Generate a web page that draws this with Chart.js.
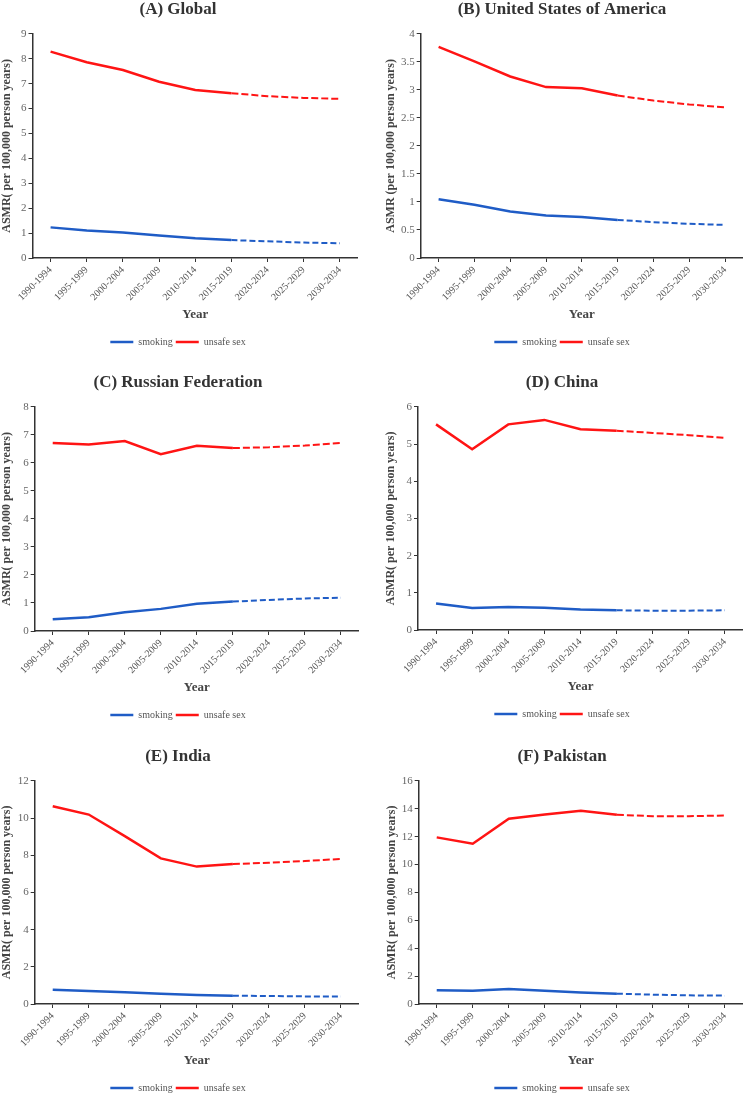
<!DOCTYPE html>
<html><head><meta charset="utf-8">
<script src="https://cdn.jsdelivr.net/npm/chart.js@4.4.1/dist/chart.umd.min.js"></script>
<style>
html,body{margin:0;padding:0;background:#fff;width:746px;height:1096px;overflow:hidden;position:relative}
canvas{position:absolute}
</style></head><body>
<script>
// ---- data ----
const categories = ['1990-1994','1995-1999','2000-2004','2005-2009','2010-2014','2015-2019','2020-2024','2025-2029','2030-2034'];
const seriesNames = ['smoking','unsafe sex'];
const panelTitles = ['(A) Global','(B) United States of America','(C) Russian Federation','(D) China','(E) India','(F) Pakistan'];
const yAxisTitles = ['ASMR( per 100,000 person years)','ASMR (per 100,000 person years)','ASMR( per 100,000 person years)','ASMR( per 100,000 person years)','ASMR( per 100,000 person years)','ASMR( per 100,000 person years)'];
const xAxisTitle = 'Year';
const yAxisMax = [9, 4, 8, 6, 12, 16];
const yAxisStep = [1, 0.5, 1, 1, 2, 2];

const globalSmoking   = [1.23, 1.10, 1.02, 0.90, 0.79, 0.72, 0.67, 0.62, 0.59];
const globalUnsafe    = [8.29, 7.86, 7.55, 7.08, 6.75, 6.62, 6.50, 6.43, 6.39];
const usaSmoking      = [1.05, 0.95, 0.83, 0.76, 0.73, 0.68, 0.64, 0.61, 0.59];
const usaUnsafe       = [3.77, 3.51, 3.24, 3.05, 3.03, 2.90, 2.81, 2.74, 2.69];
const russiaSmoking   = [0.42, 0.49, 0.67, 0.79, 0.97, 1.05, 1.11, 1.16, 1.19];
const russiaUnsafe    = [6.71, 6.66, 6.78, 6.31, 6.61, 6.53, 6.56, 6.62, 6.71];
const chinaSmoking    = [0.71, 0.59, 0.62, 0.60, 0.55, 0.53, 0.52, 0.52, 0.53];
const chinaUnsafe     = [5.53, 4.86, 5.53, 5.65, 5.40, 5.36, 5.30, 5.24, 5.17];
const indiaSmoking    = [0.77, 0.70, 0.63, 0.55, 0.48, 0.45, 0.43, 0.41, 0.41];
const indiaUnsafe     = [10.64, 10.19, 9.03, 7.83, 7.39, 7.53, 7.60, 7.69, 7.80];
const pakistanSmoking = [0.98, 0.95, 1.07, 0.95, 0.83, 0.74, 0.67, 0.62, 0.60];
const pakistanUnsafe  = [11.95, 11.49, 13.28, 13.59, 13.85, 13.57, 13.47, 13.47, 13.52];

const smokingSeries = [globalSmoking, usaSmoking, russiaSmoking, chinaSmoking, indiaSmoking, pakistanSmoking];
const unsafeSeries  = [globalUnsafe, usaUnsafe, russiaUnsafe, chinaUnsafe, indiaUnsafe, pakistanUnsafe];
const projectionStart = 5; // index of 2015-2019, dashed afterwards

// ---- layout (positions only) ----
const geometry = [
  {tc:178, axisLeft:32.5,  right:358, ct:33.5,  cb:257.3,  ytp:1.8},
  {tc:562, axisLeft:420.7, right:743, ct:33.7,  cb:257.3,  ytp:3.1},
  {tc:178, axisLeft:34.7,  right:359, ct:407,   cb:630.7,  ytp:3.1},
  {tc:562, axisLeft:418,   right:743, ct:407.3, cb:630.7,  ytp:3.1},
  {tc:178, axisLeft:34.7,  right:359, ct:780.7, cb:1004.3, ytp:3.1},
  {tc:562, axisLeft:418.7, right:743, ct:780.7, cb:1004.3, ytp:3.8}
];

const FONT = '"Liberation Serif","Times New Roman",serif';
Chart.defaults.font.family = FONT;
const BLUE = '#1f5cc6', RED = '#ff1414', AXIS = '#333333';
const TITLE_PAD_B = 14.5, XH = 76;

function dashSeg(dash) {
  return {
    borderDash: c => c.p0DataIndex >= projectionStart ? dash : undefined,
    borderWidth: c => c.p0DataIndex >= projectionStart ? 2 : undefined
  };
}

geometry.forEach((g, i) => {
  const L = 2 * g.tc - g.right;
  const W = g.right - L;
  const yW = g.axisLeft - L;
  const T = g.ct - 20.4 - TITLE_PAD_B;
  const H = g.cb + XH + 23 - T;
  const cv = document.createElement('canvas');
  cv.width = Math.round(W); cv.height = Math.round(H);
  cv.style.left = L + 'px'; cv.style.top = T + 'px';
  cv.style.width = Math.round(W) + 'px'; cv.style.height = Math.round(H) + 'px';
  document.body.appendChild(cv);
  new Chart(cv, {
    type: 'line',
    data: {
      labels: categories,
      datasets: [
        {label: seriesNames[0], data: smokingSeries[i], borderColor: BLUE, backgroundColor: BLUE,
         borderWidth: 2.5, pointRadius: 0, tension: 0, segment: dashSeg([6, 3])},
        {label: seriesNames[1], data: unsafeSeries[i], borderColor: RED, backgroundColor: RED,
         borderWidth: 2.5, pointRadius: 0, tension: 0, segment: dashSeg([7, 3])}
      ]
    },
    options: {
      responsive: false, animation: false, devicePixelRatio: 1,
      layout: {padding: 0},
      plugins: {
        tooltip: {enabled: false},
        title: {display: true, text: panelTitles[i], color: '#333',
                font: {size: 17, weight: 'bold', family: FONT, lineHeight: 1.2},
                padding: {top: 0, bottom: TITLE_PAD_B}},
        legend: {position: 'bottom',
                 labels: {usePointStyle: true, pointStyle: 'line', pointStyleWidth: 23,
                          padding: 3, color: '#555', font: {size: 10, family: FONT}}}
      },
      scales: {
        x: {
          offset: true,
          grid: {display: true, drawOnChartArea: false, drawTicks: true, tickLength: 4, color: AXIS, offset: false},
          border: {display: true, color: AXIS, width: 1.5},
          ticks: {minRotation: 45, maxRotation: 45, padding: 2, color: '#555', font: {size: 10, family: FONT}, autoSkip: false},
          title: {display: true, text: xAxisTitle, color: '#444', font: {size: 13, weight: 'bold', family: FONT},
                  padding: {top: 0, bottom: 12}},
          afterFit: s => { s.height = XH; }
        },
        y: {
          min: 0, max: yAxisMax[i],
          grid: {display: true, drawOnChartArea: false, drawTicks: true, tickLength: 4, color: AXIS},
          border: {display: true, color: AXIS, width: 1.5},
          ticks: {stepSize: yAxisStep[i], padding: 2, color: '#666', font: {size: 11, family: FONT},
                  callback: v => String(Number(Number(v).toFixed(2)))},
          title: {display: true, text: yAxisTitles[i], color: '#444', font: {size: 12, weight: 'bold', family: FONT},
                  padding: {top: g.ytp, bottom: 0}},
          afterFit: s => { s.width = yW; }
        }
      }
    }
  });
});
</script>
</body></html>
